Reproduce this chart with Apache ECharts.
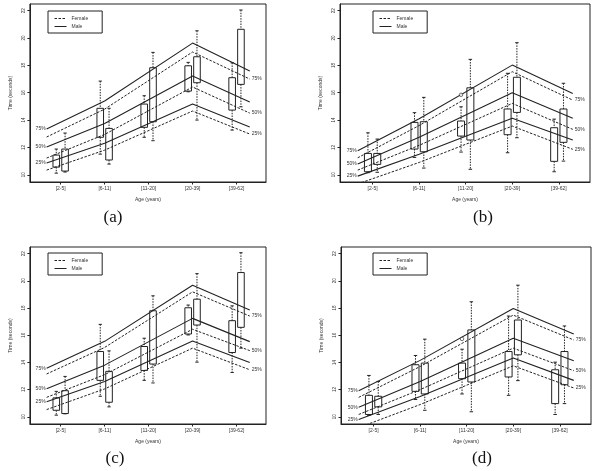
<!DOCTYPE html>
<html>
<head>
<meta charset="utf-8">
<script src="https://cdn.jsdelivr.net/npm/echarts@6/dist/echarts.min.js"></script>
<style>
body { margin: 0; background: #fff; }
.panel { position: absolute; width: 297px; height: 236px; }
.cap { position: absolute; font-family: "Liberation Serif", "DejaVu Serif", serif; font-size: 17px; color: #111; transform: translate(-50%, -50%); }
</style>
</head>
<body>
<div id="pa" class="panel" style="left:0;top:0"></div>
<div id="pb" class="panel" style="left:297px;top:0"></div>
<div id="pc" class="panel" style="left:0;top:235px"></div>
<div id="pd" class="panel" style="left:297px;top:235px"></div>
<div class="cap" style="left:113px;top:217px">(a)</div>
<div class="cap" style="left:483px;top:217px">(b)</div>
<div class="cap" style="left:115px;top:458px">(c)</div>
<div class="cap" style="left:482px;top:458px">(d)</div>
<script>
// categorias y ticks
let ageGroups = ['[2-5]', '[6-11]', '[11-20]', '[20-39]', '[39-62]'];
let yTicks = [10, 12, 14, 16, 18, 20, 22];
let lineX = [0.68, 2, 4, 5.3];
let pctNames = ['75%', '50%', '25%'];

// (a) cajas: [min, q1, q3, max]
let aLeft = [[10.12, 10.56, 11.44, 11.88], [11.51, 12.74, 14.86, 16.85], [12.74, 13.47, 15.17, 15.78], [16.07, 16.12, 17.97, 18.22], [13.27, 14.73, 17.1, 18.19]];
let aRight = [[10.2, 10.27, 11.88, 13.05], [10.78, 11.08, 13.39, 14.86], [12.49, 13.88, 17.83, 18.95], [14.0, 16.73, 18.63, 20.53], [14.97, 16.61, 20.64, 22.05]];
let aMale = [[13.34, 15.4, 19.63, 17.59], [12.03, 13.75, 17.22, 15.32], [10.86, 12.3, 15.17, 13.49]];
let aFemale = [[12.76, 14.8, 18.98, 17.0], [11.22, 12.95, 16.42, 14.51], [10.34, 11.8, 14.66, 12.98]];

// (b)
let bLeft = [[10.15, 10.22, 11.56, 13.07], [11.27, 11.88, 13.83, 14.54], [11.66, 12.83, 13.93, 14.97], [11.61, 12.93, 14.81, 17.42], [10.22, 10.98, 13.44, 14.07]];
let bRight = [[10.18, 10.76, 11.56, 12.61], [10.49, 11.68, 13.88, 15.66], [10.4, 12.54, 16.36, 18.44], [12.71, 14.56, 17.13, 19.66], [11.0, 12.37, 14.81, 16.69]];
let bMale = [[11.76, 14.1, 18.02, 15.95], [10.78, 12.75, 16.0, 14.13], [9.9, 11.5, 14.13, 12.54]];
let bFemale = [[11.24, 13.6, 17.54, 15.46], [10.34, 12.15, 15.22, 13.32], [9.33, 10.9, 13.56, 11.86]];
let bOut = [[2.9, 15.85]];

// (c)
let cLeft = [[10.12, 10.48, 11.39, 11.87], [11.51, 12.68, 14.8, 16.8], [12.68, 13.41, 15.17, 15.78], [16.02, 16.09, 18.02, 18.22], [13.26, 14.73, 17.07, 18.16]];
let cRight = [[10.22, 10.24, 11.92, 12.97], [10.73, 11.07, 13.34, 14.85], [12.49, 13.88, 17.8, 18.9], [14.02, 16.75, 18.65, 20.53], [15.05, 16.58, 20.61, 22.07]];
let cMale = [[13.58, 15.55, 19.68, 17.85], [12.07, 13.8, 17.24, 15.53], [11.1, 12.6, 15.58, 14.0]];
let cFemale = [[13.15, 15.1, 19.19, 17.41], [11.43, 13.1, 16.44, 14.87], [10.53, 12.05, 15.05, 13.46]];

// (d)
let dLeft = [[10.1, 10.17, 11.58, 13.04], [11.27, 11.87, 13.83, 14.51], [11.68, 12.8, 13.95, 14.97], [11.58, 12.93, 14.8, 17.41], [10.17, 10.97, 13.46, 14.02]];
let dRight = [[10.17, 10.73, 11.51, 12.6], [10.48, 11.68, 13.95, 15.71], [10.37, 12.56, 16.39, 18.46], [12.66, 14.56, 17.12, 19.68], [10.97, 12.36, 14.8, 16.68]];
let dMale = [[11.92, 14.15, 17.97, 16.09], [10.7, 12.6, 15.78, 14.12], [9.8, 11.5, 14.32, 12.68]];
let dFemale = [[11.43, 13.7, 17.48, 15.65], [10.17, 12.0, 15.05, 13.39], [9.2, 10.9, 13.75, 12.12]];
let dOut = [[2.9, 15.73]];

let ink = '#222';
let font = '"Liberation Sans", Arial, sans-serif';

let drawBox = (params, api) => {
    let x = api.value(0);
    let lo = api.coord([x, api.value(1)]);
    let q1 = api.coord([x, api.value(2)]);
    let q3 = api.coord([x, api.value(3)]);
    let hi = api.coord([x, api.value(4)]);
    let w = api.size([0.15, 0])[0];
    let px = lo[0];
    let dot = { stroke: ink, lineWidth: 1, lineDash: [1.5, 1.2] };
    let sol = { stroke: ink, lineWidth: 1 };
    return {
        type: 'group',
        children: [
            { type: 'line', shape: { x1: px, y1: hi[1], x2: px, y2: q3[1] }, style: dot },
            { type: 'line', shape: { x1: px, y1: q1[1], x2: px, y2: lo[1] }, style: dot },
            { type: 'line', shape: { x1: px - w / 4, y1: hi[1], x2: px + w / 4, y2: hi[1] }, style: sol },
            { type: 'line', shape: { x1: px - w / 4, y1: lo[1], x2: px + w / 4, y2: lo[1] }, style: sol },
            { type: 'rect', shape: { x: px - w / 2, y: q3[1], width: w, height: q1[1] - q3[1] }, style: { fill: 'rgba(0,0,0,0)', stroke: ink, lineWidth: 1 } }
        ]
    };
};

let boxData = (arr, off) => arr.map((b, i) => [i + 1 + off].concat(b));

let buildPanel = (id, cfg) => {
    let chart = echarts.init(document.getElementById(id));
    let series = [];
    cfg.male.forEach((vals, k) => {
        series.push({
            name: 'Male',
            type: 'line',
            data: vals.map((v, i) => [lineX[i], v]),
            symbol: 'circle',
            symbolSize: 0,
            lineStyle: { color: ink, width: 1.1, type: 'solid' },
            itemStyle: { color: ink },
            label: {
                show: true,
                position: 'left',
                distance: 1,
                fontSize: 5,
                fontFamily: font,
                color: '#333',
                formatter: (p) => p.dataIndex === 0 ? pctNames[k] : ''
            },
            z: 3
        });
    });
    cfg.female.forEach((vals, k) => {
        series.push({
            name: 'Female',
            type: 'line',
            data: vals.map((v, i) => [lineX[i], v]),
            symbol: 'none',
            lineStyle: { color: ink, width: 1, type: [2.5, 1.5] },
            itemStyle: { color: ink },
            endLabel: { show: true, formatter: pctNames[k], fontSize: 5, fontFamily: font, color: '#333', distance: 2 },
            z: 3
        });
    });
    series.push({ type: 'custom', renderItem: drawBox, data: boxData(cfg.left, -0.1), encode: { x: 0, y: [1, 2, 3, 4] }, z: 4 });
    series.push({ type: 'custom', renderItem: drawBox, data: boxData(cfg.right, 0.1), encode: { x: 0, y: [1, 2, 3, 4] }, z: 4 });
    if (cfg.out) {
        series.push({ type: 'scatter', data: cfg.out, symbol: 'circle', symbolSize: 3.5, itemStyle: { color: '#fff', borderColor: ink, borderWidth: 0.8 }, z: 5 });
    }

    let option = {
        animation: false,
        textStyle: { fontFamily: font },
        legend: {
            data: ['Female', 'Male'],
            orient: 'vertical',
            left: cfg.legLeft,
            top: cfg.legTop,
            itemWidth: 12,
            itemHeight: 4,
            itemGap: 3,
            padding: [5, 14, 4, 6],
            borderColor: ink,
            borderWidth: 1,
            textStyle: { fontSize: 5, color: '#333', fontFamily: font },
            itemStyle: { opacity: 0 },
            lineStyle: { width: 1 }
        },
        grid: {
            left: cfg.gl,
            top: cfg.gt,
            width: 250,
            height: cfg.gh,
            show: true,
            borderColor: ink,
            borderWidth: 1,
            backgroundColor: 'transparent'
        },
        xAxis: {
            type: 'value',
            min: 0.3,
            max: 5.67,
            name: 'Age (years)',
            nameLocation: 'middle',
            nameGap: 15,
            nameTextStyle: { fontSize: 5, color: '#333' },
            splitLine: { show: false },
            axisLine: { show: true, lineStyle: { color: ink } },
            axisTick: { show: true, customValues: [1, 2, 3, 4, 5], length: 2.5, lineStyle: { color: ink } },
            axisLabel: {
                customValues: [1, 2, 3, 4, 5],
                fontSize: 5,
                color: '#333',
                margin: 4,
                formatter: (v) => ageGroups[Math.round(v) - 1]
            }
        },
        yAxis: {
            type: 'value',
            min: 9.47,
            max: 22.49,
            name: 'Time (seconds)',
            nameLocation: 'middle',
            nameGap: 13,
            nameTextStyle: { fontSize: 5, color: '#333' },
            splitLine: { show: false },
            axisLine: { show: true, lineStyle: { color: ink } },
            axisTick: { show: true, customValues: yTicks, length: 2.5, lineStyle: { color: ink } },
            axisLabel: { customValues: yTicks, fontSize: 4.5, color: '#333', margin: 4, rotate: 90 }
        },
        series: series
    };
    chart.setOption(option);
    return chart;
};

buildPanel('pa', { male: aMale, female: aFemale, left: aLeft, right: aRight, gl: 16, gt: 4, gh: 178, legLeft: 48, legTop: 11 });
buildPanel('pb', { male: bMale, female: bFemale, left: bLeft, right: bRight, out: bOut, gl: 43, gt: 4, gh: 178, legLeft: 76, legTop: 11 });
buildPanel('pc', { male: cMale, female: cFemale, left: cLeft, right: cRight, gl: 16, gt: 12, gh: 177, legLeft: 48, legTop: 18 });
buildPanel('pd', { male: dMale, female: dFemale, left: dLeft, right: dRight, out: dOut, gl: 44, gt: 12, gh: 177, legLeft: 76, legTop: 18 });
</script>
</body>
</html>
